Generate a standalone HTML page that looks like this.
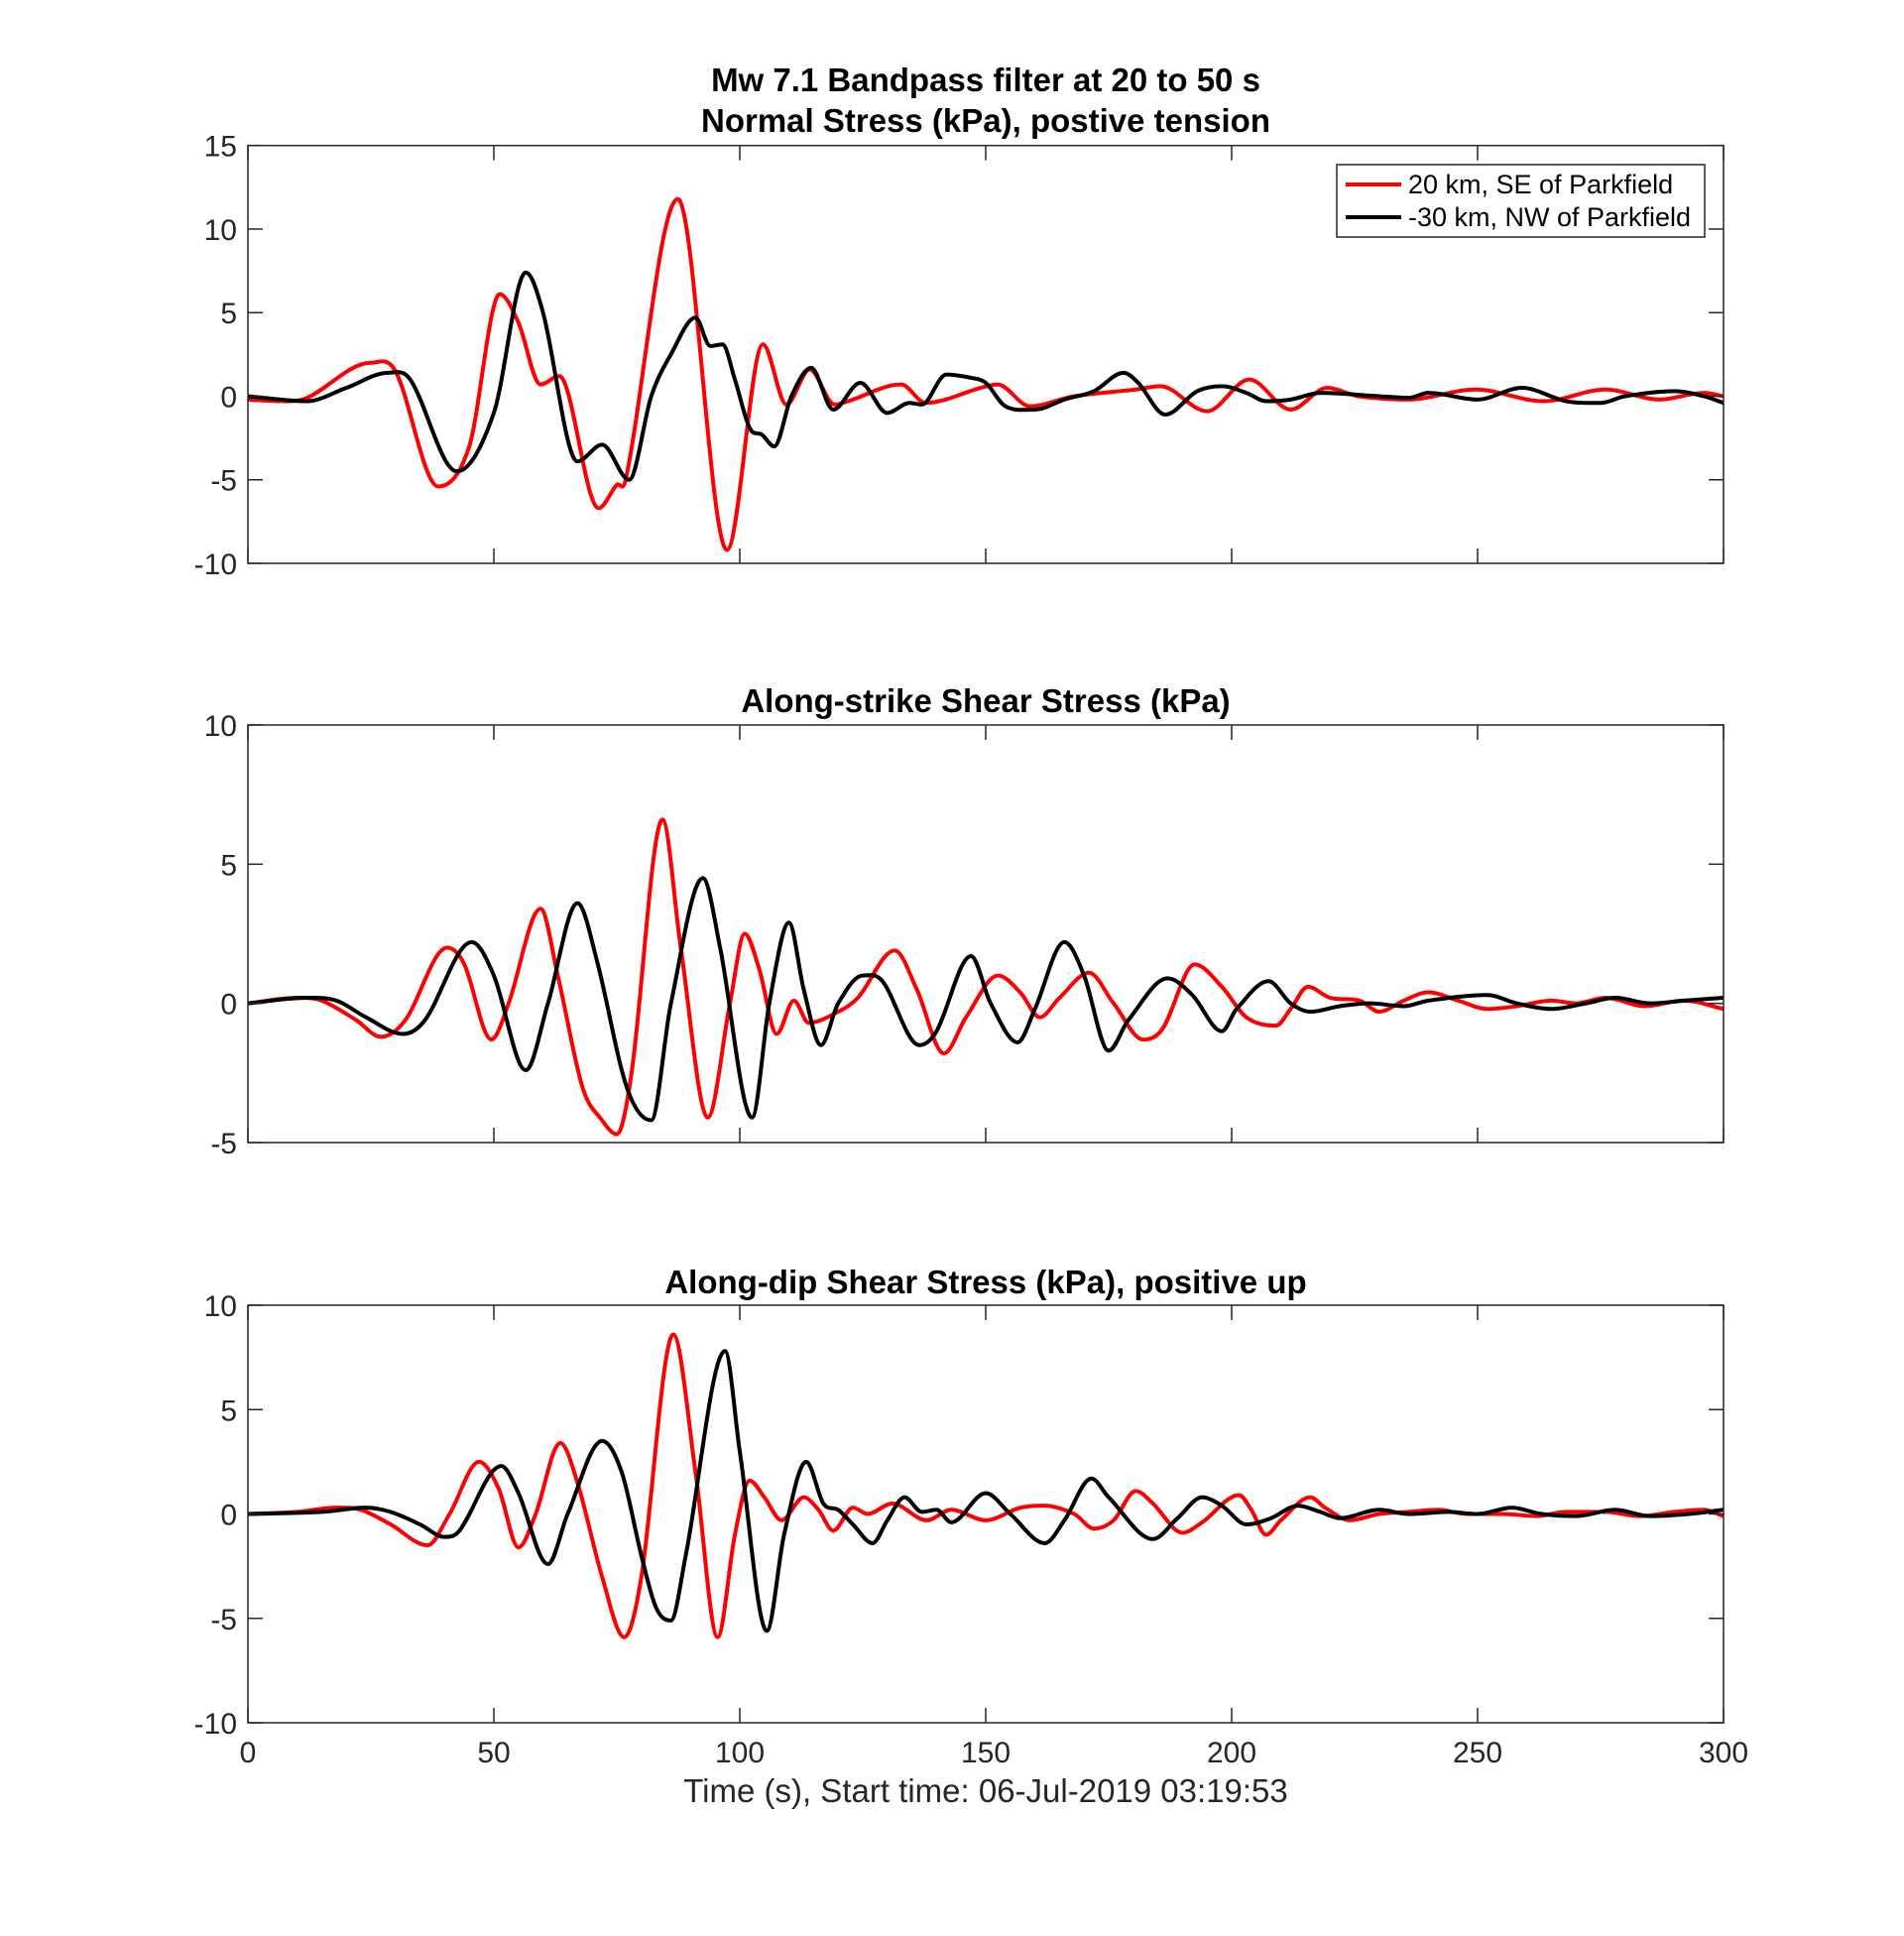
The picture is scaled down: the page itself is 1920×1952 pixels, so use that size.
<!DOCTYPE html>
<html><head><meta charset="utf-8"><style>
body{margin:0;background:#fff}
svg{display:block;font-family:"Liberation Sans",Arial,sans-serif}
</style></head><body>
<svg id="fig" width="1920" height="1952" viewBox="0 0 1920 1952">
<rect width="1920" height="1952" fill="#fff"/>
<text x="994" y="92" text-anchor="middle" font-size="33" font-weight="bold" fill="#000">Mw 7.1 Bandpass filter at 20 to 50 s</text>
<text x="994" y="133" text-anchor="middle" font-size="33" font-weight="bold" fill="#000">Normal Stress (kPa), postive tension</text>
<text x="994" y="718" text-anchor="middle" font-size="33" font-weight="bold" fill="#000">Along-strike Shear Stress (kPa)</text>
<text x="994" y="1304" text-anchor="middle" font-size="33" font-weight="bold" fill="#000">Along-dip Shear Stress (kPa), positive up</text>
<text x="994" y="1817" text-anchor="middle" font-size="33" fill="#262626">Time (s), Start time: 06-Jul-2019 03:19:53</text>
<g id="panels"></g>
<g>
<rect x="1348" y="166" width="371" height="73" fill="#fff" stroke="#262626" stroke-width="1.5"/>
<line x1="1357" y1="186" x2="1413" y2="186" stroke="#ff0000" stroke-width="4"/>
<text x="1420" y="195" font-size="27" fill="#000">20 km, SE of Parkfield</text>
<line x1="1357" y1="219" x2="1413" y2="219" stroke="#000" stroke-width="4"/>
<text x="1420" y="228" font-size="27" fill="#000">-30 km, NW of Parkfield</text>
</g>
</svg>
<script>
const xTicks=[0,50,100,150,200,250,300];
const p1Ticks=[15,10,5,0,-5,-10];
const p2Ticks=[10,5,0,-5];
const p3Ticks=[10,5,0,-5,-10];
const p1RedT=[0,7,12,25,30,38.7,45,51.2,55,59.5,63.3,71.3,75,76.8,87.4,97.4,104.7,109.5,114.2,119.3,122,132.8,137.8,149,152.4,159,168,180.5,185.5,195,203.6,212,219.4,225.7,235.8,249.6,263.4,276,287,296,300];
const p1RedV=[-0.2,-0.3,-0.1,2.0,1.5,-5.4,-3,6.1,4.4,0.7,1.2,-6.7,-5.3,-5.0,11.8,-9.2,3.1,-0.5,1.6,-0.5,-0.3,0.7,-0.4,0.5,0.7,-0.6,0,0.4,0.6,-0.9,1.0,-0.8,0.5,0,-0.2,0.4,-0.3,0.4,-0.2,0.2,0];
const p1BlkT=[0,12,20,28.5,33,42.5,50,56.5,60,67,72,77.5,82,86,91,94,96.5,99,102,104.5,107,110.5,114.5,119,124.5,130,134.5,137,142,147,150,154,160,166,172,178,181,186.5,193,198,203,207,212,218,230,236,240,250,259,268,275,280,290,296,300];
const p1BlkV=[0,-0.3,0.5,1.4,1,-4.5,-1,7.4,5,-3.9,-2.9,-5.0,0,2.5,4.7,3,3.1,1,-1.9,-2.3,-3.0,0,1.7,-0.8,0.8,-1.0,-0.4,-0.5,1.3,1.1,0.8,-0.6,-0.8,-0.2,0.3,1.4,0.8,-1.1,0.3,0.6,0.2,-0.3,-0.2,0.2,0,-0.1,0.2,-0.2,0.5,-0.3,-0.4,0,0.3,0,-0.4];
const p2RedT=[0,10,15,22,27,32,40.5,44,49.5,53,59.5,63,68,72,75,78,84.3,88,93.5,98,101,104,107.5,111,114,120,124,131.5,136,141.5,146,152.5,157,161,165,171,176,182,186,192.5,198,203,209,212,215.5,220,226,230,235,240,246,252,258,265,270,276,284,292,300];
const p2RedV=[0,0.2,0.1,-0.6,-1.2,-0.6,2.0,1.4,-1.3,0,3.4,1,-3,-4.2,-4.7,-2.5,6.6,2,-4.1,0,2.5,1.2,-1.1,0.1,-0.7,-0.3,0.2,1.9,0.5,-1.8,-0.5,1.0,0.4,-0.5,0.2,1.1,0,-1.3,-0.9,1.4,0.6,-0.5,-0.8,-0.2,0.6,0.2,0.1,-0.3,0.1,0.4,0.1,-0.2,-0.1,0.1,0,0.2,-0.1,0.1,-0.2];
const p2BlkT=[0,12,18,24,31.5,36,45.5,50,56.5,61,67,71,77,82,86,92.5,96,102.5,106,110,113,116.5,120,125,129,136.5,140,147,151,156.5,160,166,170,175,179,187,192,198,201,207.5,212,216,222,228,235,240,252,258,265,272,278,285,292,300];
const p2BlkV=[0,0.2,0.1,-0.5,-1.1,-0.6,2.2,1.0,-2.4,0,3.6,1.5,-3,-4.2,0,4.5,2,-4.1,0,2.9,0.5,-1.5,0,1.0,0.8,-1.5,-1.0,1.7,0,-1.4,-0.2,2.2,1.0,-1.7,-0.6,0.9,0.3,-1.0,-0.2,0.8,0,-0.3,-0.1,0,-0.1,0.1,0.3,0,-0.2,0,0.2,0,0.1,0.2];
const p3RedT=[0,10,18,23,29,36.5,41,47,51,55,58.5,63.5,67,72,76.5,80,86.5,91,95.5,99,102,105,108.5,113,116,119,123,126,131,138,143,150,157,162,168,172,176,180.5,184,190,194,201.5,204,207,210,216,219,224,230,236,242,248,255,262,268,276,283,290,296,300];
const p3RedV=[0,0.1,0.3,0.2,-0.5,-1.5,0,2.5,1.2,-1.6,0,3.4,1.5,-3,-5.9,-3,8.6,2,-5.9,-1,1.6,0.8,-0.3,0.8,0.2,-0.8,0.3,0,0.5,-0.3,0.2,-0.3,0.3,0.4,0,-0.7,-0.3,1.1,0.5,-0.9,-0.4,0.9,0.2,-1.0,-0.3,0.8,0.3,-0.3,0,0.1,0.2,0,0,-0.1,0.1,0.1,-0.1,0.1,0.2,-0.1];
const p3BlkT=[0,15,24,29,35,40,43,51.5,55,61,65,72,76,80,83,86,89,97,100,105.5,109,113.5,117,120,123,127,130,133.5,137,140,143,150,155,162,166,171.5,175,184,189,194,198,203,208,213.5,218,222,230,236,244,250,257,263,270,278,285,293,300];
const p3BlkV=[0,0.1,0.3,0.1,-0.5,-1.1,-0.8,2.3,1.0,-2.4,0,3.5,2,-2,-4.5,-5.1,-2,7.8,3,-5.6,-1,2.5,0.5,0.2,-0.5,-1.4,-0.3,0.8,0.1,0.2,-0.4,1.0,0,-1.4,-0.3,1.7,0.8,-1.2,-0.2,0.8,0.4,-0.5,-0.2,0.4,0.1,-0.2,0.2,0,0.1,0,0.3,0,-0.1,0.2,-0.1,0,0.2];

const NS='http://www.w3.org/2000/svg';
const X0=250,X1=1738;
const panels=[
 {top:146.7,bot:568,ymax:15,ymin:-10,ticks:p1Ticks,series:[[p1RedT,p1RedV,'#ff0000'],[p1BlkT,p1BlkV,'#000000']],xl:false},
 {top:731,bot:1152,ymax:10,ymin:-5,ticks:p2Ticks,series:[[p2RedT,p2RedV,'#ff0000'],[p2BlkT,p2BlkV,'#000000']],xl:false},
 {top:1316,bot:1737,ymax:10,ymin:-10,ticks:p3Ticks,series:[[p3RedT,p3RedV,'#ff0000'],[p3BlkT,p3BlkV,'#000000']],xl:true}
];
function mk(tag,attrs,parent){const e=document.createElementNS(NS,tag);for(const k in attrs)e.setAttribute(k,attrs[k]);parent.appendChild(e);return e;}
function xs(t){return X0+(t-0)/(300-0)*(X1-X0);}
function tangents(T,V){
 const n=T.length,d=[],m=[];
 for(let i=0;i<n-1;i++)d.push((V[i+1]-V[i])/(T[i+1]-T[i]));
 m[0]=d[0];m[n-1]=d[n-2];
 for(let i=1;i<n-1;i++){
  if(d[i-1]*d[i]<=0)m[i]=0;
  else m[i]=(V[i+1]-V[i-1])/(T[i+1]-T[i-1]);
 }
 return m;
}
const root=document.getElementById('panels');
panels.forEach((p,pi)=>{
 const g=mk('g',{},root);
 
 
 const ys=v=>p.top+(p.ymax-v)/(p.ymax-p.ymin)*(p.bot-p.top);
 const cp=mk('clipPath',{id:'cp'+pi},g);
 mk('rect',{x:X0,y:p.top,width:X1-X0,height:p.bot-p.top},cp);
 p.series.forEach((s,si)=>{
  const [T,V,col]=s, m=tangents(T,V);
  let d='M'+xs(T[0]).toFixed(2)+','+ys(V[0]).toFixed(2);
  for(let i=0;i<T.length-1;i++){
   const h=T[i+1]-T[i];
   const c1t=T[i]+h/3,c1v=V[i]+m[i]*h/3,c2t=T[i+1]-h/3,c2v=V[i+1]-m[i+1]*h/3;
   d+=' C'+xs(c1t).toFixed(2)+','+ys(c1v).toFixed(2)+' '+xs(c2t).toFixed(2)+','+ys(c2v).toFixed(2)+' '+xs(T[i+1]).toFixed(2)+','+ys(V[i+1]).toFixed(2);
  }
  const path=mk('path',{d:d,fill:'none',stroke:col,'stroke-width':4,'stroke-linejoin':'round','clip-path':'url(#cp'+pi+')'},g);
  
  
 });
 const box=mk('rect',{x:X0,y:p.top,width:X1-X0,height:p.bot-p.top,fill:'none',stroke:'#262626','stroke-width':1.5},g);
 
 
 xTicks.forEach(t=>{
  const x=xs(t);
  mk('line',{x1:x,y1:p.bot,x2:x,y2:p.bot-15,stroke:'#262626','stroke-width':1.5},g);
  mk('line',{x1:x,y1:p.top,x2:x,y2:p.top+15,stroke:'#262626','stroke-width':1.5},g);
  if(p.xl){
   const tx=mk('text',{x:x,y:p.bot+40,'text-anchor':'middle','font-size':30,fill:'#262626'},g);
   tx.textContent=t;
   
   
  }
 });
 p.ticks.forEach(v=>{
  const y=ys(v);
  mk('line',{x1:X0,y1:y,x2:X0+15,y2:y,stroke:'#262626','stroke-width':1.5},g);
  mk('line',{x1:X1,y1:y,x2:X1-15,y2:y,stroke:'#262626','stroke-width':1.5},g);
  const tx=mk('text',{x:X0-11,y:y+11,'text-anchor':'end','font-size':30,fill:'#262626'},g);
  tx.textContent=v;
  
  
 });
});
</script>
</body></html>
